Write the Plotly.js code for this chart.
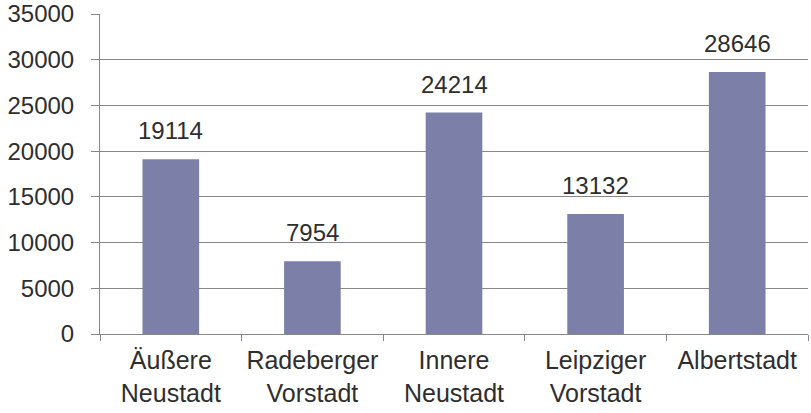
<!DOCTYPE html>
<html>
<head>
<meta charset="utf-8">
<script src="https://cdn.plot.ly/plotly-3.0.1.min.js"></script>
<style>html,body{margin:0;padding:0;background:#fff}#chart{width:811px;height:413px}</style>
</head>
<body>
<div id="chart"></div>
<script>
const categories = ["Äußere<br>Neustadt", "Radeberger<br>Vorstadt", "Innere<br>Neustadt", "Leipziger<br>Vorstadt", "Albertstadt"];
const values = [19114, 7954, 24214, 13132, 28646];
const yTicks = [0, 5000, 10000, 15000, 20000, 25000, 30000, 35000];

const fontFam = "Liberation Sans, Arial, sans-serif";
const textColor = "#2e2e2e";
const trace = {
  type: "bar",
  x: categories,
  y: values,
  marker: {color: "#7c80a9", line: {width: 0}},
  hoverinfo: "none"
};
const annotations = categories.map((c, i) => ({
  x: c, y: values[i], xref: "x", yref: "y",
  text: String(values[i]),
  showarrow: false, yanchor: "bottom", yshift: 13,
  font: {family: fontFam, size: 24, color: textColor}
}));
const layout = {
  width: 811, height: 413,
  margin: {l: 100, r: 3, t: 14, b: 79},
  paper_bgcolor: "#ffffff", plot_bgcolor: "#ffffff",
  showlegend: false,
  bargap: 0.6,
  font: {family: fontFam, size: 24, color: textColor},
  annotations: annotations,
  xaxis: {
    type: "category",
    tickson: "boundaries",
    ticks: "outside", ticklen: 6, tickcolor: "#878787", tickwidth: 1,
    ticklabelstandoff: 4,
    showline: true, linecolor: "#878787", linewidth: 1,
    showgrid: false, zeroline: false,
    tickfont: {family: fontFam, size: 25, color: textColor}
  },
  yaxis: {
    range: [0, 35000],
    tickvals: yTicks,
    ticktext: yTicks.map(String),
    ticks: "outside", ticklen: 8, tickcolor: "#878787", tickwidth: 1,
    ticklabelstandoff: 12,
    showline: true, linecolor: "#878787", linewidth: 1,
    showgrid: true, gridcolor: "#878787", gridwidth: 1,
    zeroline: true, zerolinecolor: "#878787", zerolinewidth: 1,
    tickfont: {family: fontFam, size: 24, color: textColor}
  }
};
Plotly.newPlot("chart", [trace], layout, {displayModeBar: false, staticPlot: true});
</script>
</body>
</html>
